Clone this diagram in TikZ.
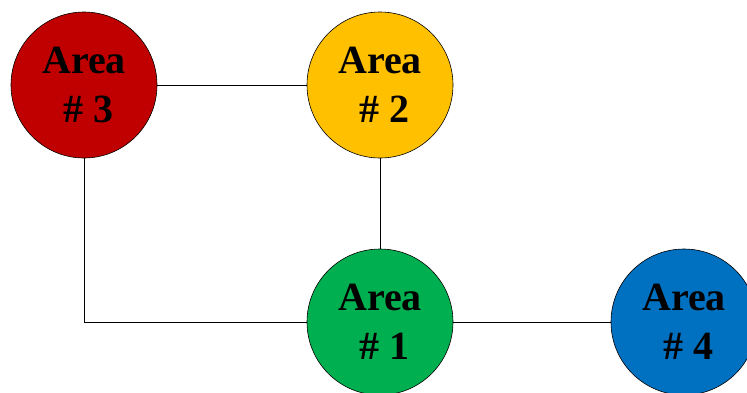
\documentclass[tikz,border=0pt]{standalone}
\usepackage{fontspec}
\setmainfont{Liberation Serif}
\definecolor{areared}{HTML}{C00000}
\definecolor{areayellow}{HTML}{FFC000}
\definecolor{areagreen}{HTML}{00B050}
\definecolor{areablue}{HTML}{0070C0}
\tikzset{
  area/.style={circle, draw=black, line width=0.6pt, minimum size=146pt, inner sep=0pt,
    align=center, font=\fontsize{40}{49}\selectfont\bfseries},
  link/.style={draw=black, line width=0.7pt}
}
\newcommand{\arealabel}[1]{Area\\\hspace*{8pt}\#~#1}
\begin{document}
\begin{tikzpicture}[x=1pt,y=-1pt]
  \useasboundingbox (0,0) rectangle (747,392);
  \begin{scope}
    \clip (0,0) rectangle (747,392);
    \node[area, fill=areared]    (a3) at (84,85)   {\arealabel{3}};
    \node[area, fill=areayellow] (a2) at (380,85)  {\arealabel{2}};
    \node[area, fill=areagreen]  (a1) at (380,322) {\arealabel{1}};
    \node[area, fill=areablue]   (a4) at (684,322) {\arealabel{4}};
  \end{scope}
  \draw[link] (a3.east) -- (a2.west);
  \draw[link] (a2.south) -- (a1.north);
  \draw[link] (a3.south) |- (a1.west);
  \draw[link] (a1.east) -- (a4.west);
\end{tikzpicture}
\end{document}
